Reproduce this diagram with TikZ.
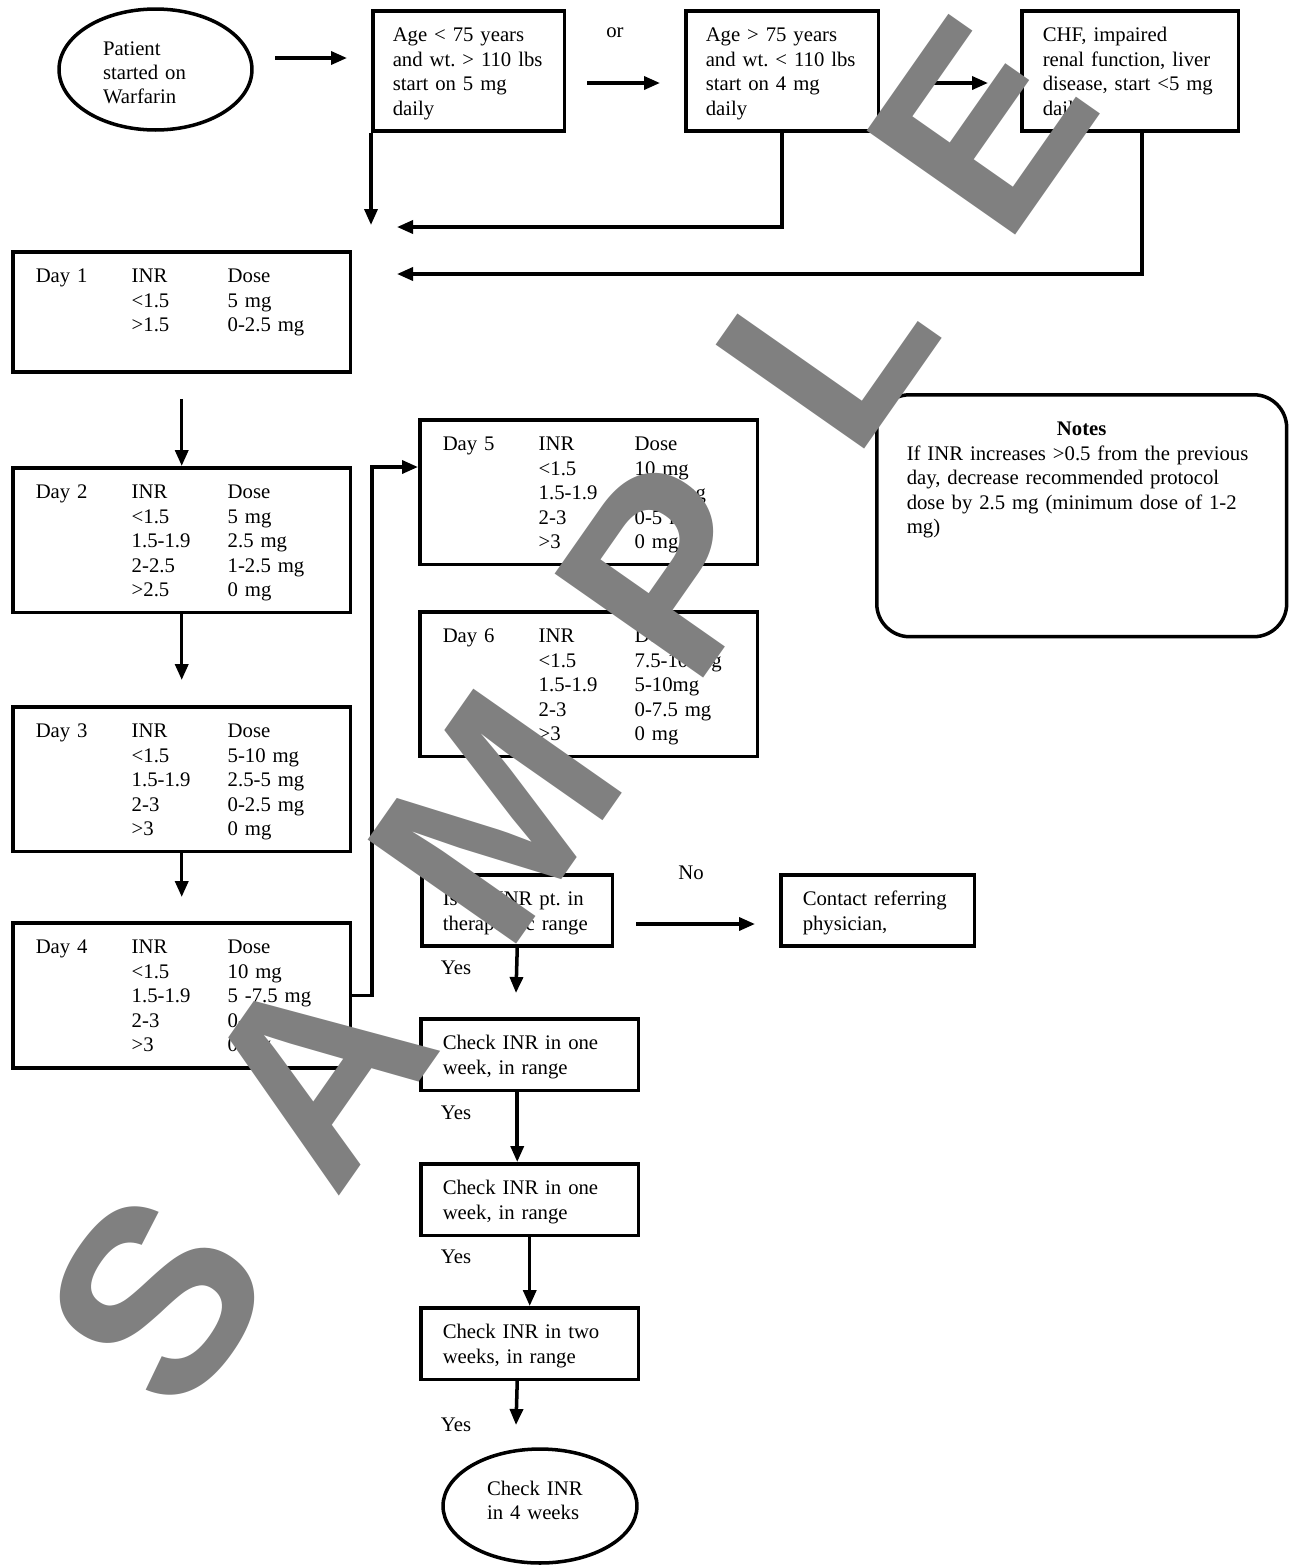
\documentclass[tikz,border=0pt]{standalone}
\usepackage{fontspec}
\setmainfont{Liberation Serif}
\newfontfamily\wmfont{Liberation Sans}
\usetikzlibrary{arrows.meta,shapes.geometric}
\newcommand{\dayrow}[3]{\makebox[1.92cm][l]{#1}\makebox[1.92cm][l]{#2}#3}

\begin{document}
\begin{tikzpicture}[x=0.02cm, y=-0.02cm, line width=2pt,
    every node/.style={font=\fontsize{11.8}{13.9}\selectfont\frenchspacing},
    >={Triangle[length=0.32cm,width=0.26cm]},
    stepbox/.style={draw, anchor=north west, align=left, inner ysep=0pt, inner xsep=0.42cm, text height=0.62cm},
    daybox/.style={stepbox, inner xsep=0.46cm, text width=5.84cm, text depth=2.28cm},
    checkbox/.style={stepbox, inner xsep=0.44cm, text width=3.48cm, text depth=0.81cm},
    endbox/.style={draw, ellipse, align=left, inner sep=0pt},
    wmark/.style={text=gray, inner sep=0pt, rotate=55, font=\wmfont\bfseries\fontsize{150}{150}\selectfont}]
  \useasboundingbox (0,0) rectangle (1290,1566);

  \node[endbox, minimum width=3.86cm, minimum height=2.42cm, text width=2.1cm, text height=0.4cm, text depth=0.98cm] (pat) at (155.5,69.5) {Patient\\started on\\Warfarin};
  \node[stepbox, inner xsep=0.4cm, text width=3.04cm, text depth=1.79cm] (agelo) at (371,9) {Age < 75 years\\and wt. > 110 lbs\\start on 5 mg\\daily};
  \node (ortxt) at (615,33) {or};
  \node[stepbox, inner xsep=0.4cm, text width=3.06cm, text depth=1.79cm] (agehi) at (684,9) {Age > 75 years\\and wt. < 110 lbs\\start on 4 mg\\daily};
  \node[stepbox, text width=3.5cm, text depth=1.79cm] (chf) at (1020,9) {CHF, impaired\\renal function, liver\\disease, start <5 mg\\daily};

  \node[daybox, text depth=1.79cm] (day1) at (11,250) {\dayrow{Day 1}{INR}{Dose}\\\dayrow{}{<1.5}{5 mg}\\\dayrow{}{>1.5}{0-2.5 mg}};
  \node[daybox] (day2) at (11,466) {\dayrow{Day 2}{INR}{Dose}\\\dayrow{}{<1.5}{5 mg}\\\dayrow{}{1.5-1.9}{2.5 mg}\\\dayrow{}{2-2.5}{1-2.5 mg}\\\dayrow{}{>2.5}{0 mg}};
  \node[daybox] (day3) at (11,705) {\dayrow{Day 3}{INR}{Dose}\\\dayrow{}{<1.5}{5-10 mg}\\\dayrow{}{1.5-1.9}{2.5-5 mg}\\\dayrow{}{2-3}{0-2.5 mg}\\\dayrow{}{>3}{0 mg}};
  \node[daybox] (day4) at (11,921) {\dayrow{Day 4}{INR}{Dose}\\\dayrow{}{<1.5}{10 mg}\\\dayrow{}{1.5-1.9}{5 -7.5 mg}\\\dayrow{}{2-3}{0-5 mg}\\\dayrow{}{>3}{0 mg}};
  \node[daybox] (day5) at (418,418) {\dayrow{Day 5}{INR}{Dose}\\\dayrow{}{<1.5}{10 mg}\\\dayrow{}{1.5-1.9}{5-10 mg}\\\dayrow{}{2-3}{0-5 mg}\\\dayrow{}{>3}{0 mg}};
  \node[daybox] (day6) at (418,610) {\dayrow{Day 6}{INR}{Dose}\\\dayrow{}{<1.5}{7.5-10 mg}\\\dayrow{}{1.5-1.9}{5-10mg}\\\dayrow{}{2-3}{0-7.5 mg}\\\dayrow{}{>3}{0 mg}};

  \node[draw, rounded corners=0.66cm, anchor=north west, align=left, inner ysep=0pt, inner xsep=0.6cm, text width=7cm, text height=0.82cm, text depth=4.02cm] (notes) at (875,393) {\makebox[7cm][c]{\bfseries Notes}\\If INR increases >0.5 from the previous\\day, decrease recommended protocol\\dose by 2.5 mg (minimum dose of 1-2\\mg)};

  \node[stepbox, text width=2.98cm, text depth=0.81cm] (dec) at (420,873) {Is the INR pt. in\\therapeutic range};
  \node (no) at (691,873) {No};
  \node[stepbox, inner xsep=0.44cm, text width=3cm, text depth=0.81cm] (contact) at (779,873) {Contact referring\\physician,};
  \node[checkbox] (chk1) at (419,1017) {Check INR in one\\week, in range};
  \node[checkbox] (chk2) at (419,1162) {Check INR in one\\week, in range};
  \node[checkbox] (chk3) at (419,1306) {Check INR in two\\weeks, in range};
  \node[endbox, minimum width=3.88cm, minimum height=2.28cm, text width=2.12cm, text height=0.3cm, text depth=0.74cm] (fin) at (540,1506) {Check INR\\in 4 weeks};
  \node (yes1) at (456,968) {Yes};
  \node (yes2) at (456,1113) {Yes};
  \node (yes3) at (456,1257) {Yes};
  \node (yes4) at (456,1425) {Yes};

  \coordinate (a1s) at (275,58);  \coordinate (a1e) at (347,58);
  \coordinate (a2s) at (587,83);  \coordinate (a2e) at (660,83);
  \coordinate (a3s) at (914,83);  \coordinate (a3e) at (988,83);
  \coordinate (tipA) at (371,225);
  \coordinate (tipB) at (397,227);
  \coordinate (tipC) at (397,274);
  \coordinate (bend) at (372,467);
  \coordinate (nos) at (636,924);  \coordinate (noe) at (755,924);
  \coordinate (dn1) at (516,993);
  \coordinate (dn4) at (516,1425);

  \path[->] (a1s) edge (a1e) (a2s) edge (a2e) (a3s) edge (a3e);
  \draw[->] (agelo.south west) -- (tipA);
  \draw[->] (agehi.south) |- (tipB);
  \draw[->] ([xshift=0.23cm]chf.south) |- (tipC);
  \draw[->] ([yshift=-0.5cm]day1.south) -- (day2.north);
  \path[->] (day2.south) edge[shorten >=0.5cm] (day3.north)
            (day3.south) edge[shorten >=0.48cm] (day4.north);
  \draw[->] (day4.east) -| (bend) -- (bend -| day5.west);
  \draw[->] (nos) -- (noe);
  \draw[->] (dec.south) -- (dn1);
  \draw[->] (chk1.south -| dec.south) -- (chk2.north -| dec.south);
  \draw[->] (chk2.south) -- (chk3.north);
  \draw[->] (chk3.south -| dec.south) -- (dn4);

  \foreach \ch/\px/\py in {S/157/1299, A/316/1072, M/495/817, P/670/568, L/826/346, E/982/125}
    \node[wmark] (wm\ch) at (\px,\py) {\ch};
\end{tikzpicture}
\end{document}
